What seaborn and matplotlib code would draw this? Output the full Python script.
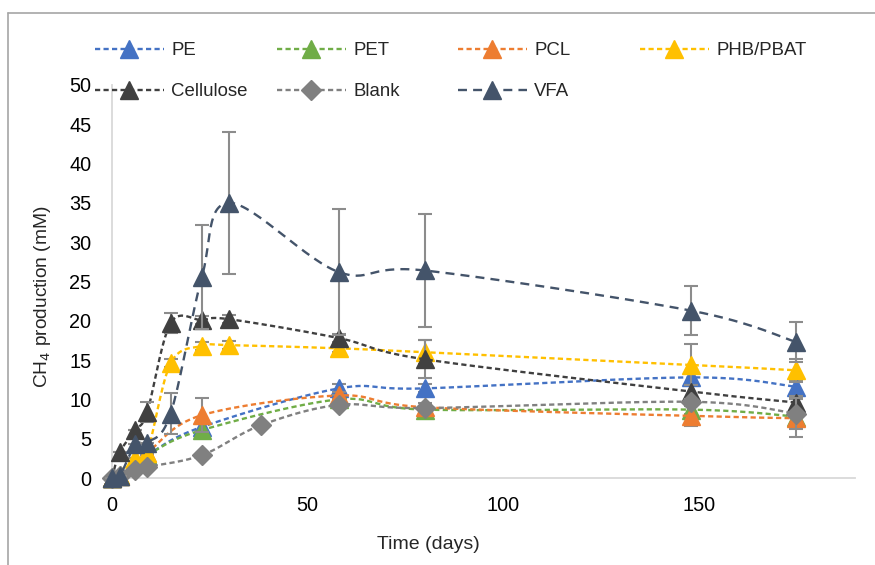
import numpy as np
import matplotlib
matplotlib.use("Agg")
import matplotlib.pyplot as plt
from matplotlib.lines import Line2D
import seaborn as sns
import pandas as pd

# ---- data ----
series_names = ["PE", "PET", "PCL", "PHB/PBAT", "Cellulose", "Blank", "VFA"]

t_plastic = [0, 2, 9, 23, 58, 80, 148, 175]
pe_vals = [0, 0.3, 2.9, 6.5, 11.4, 11.4, 12.8, 11.6]
pet_vals = [0, 0.3, 2.9, 6.1, 10.0, 8.7, 8.7, 7.8]
pcl_vals = [0, 0.3, 3.2, 8.0, 10.5, 9.0, 7.9, 7.6]
pe_err = [0, 0, 0, 0.5, 0.5, 0.5, 0.8, 0.8]
pet_err = [0, 0, 0, 0.8, 0.5, 0.5, 0.5, 0.8]
pcl_err = [0, 0, 0, 2.2, 0.5, 0.5, 1.3, 2.4]

t_full = [0, 2, 6, 9, 15, 23, 30, 58, 80, 148, 175]
phb_vals = [0, 0.4, 2.5, 3.2, 14.6, 16.8, 16.9, 16.5, 16.0, 14.4, 13.7]
phb_err = [0, 0, 0, 0, 0.5, 0.5, 0.5, 0.5, 1.5, 2.6, 1.5]
cel_vals = [0, 3.3, 6.1, 8.4, 19.7, 20.1, 20.2, 17.8, 15.1, 11.0, 9.6]
cel_err = [0, 0, 0, 1.3, 1.3, 0.5, 0.5, 0.5, 2.4, 0.8, 0.8]
vfa_vals = [0, 0.3, 4.3, 4.5, 8.2, 25.6, 35.0, 26.2, 26.4, 21.3, 17.3]
vfa_err = [0, 0, 0, 0, 2.6, 6.6, 9.0, 8.0, 7.2, 3.1, 2.6]

t_blank = [0, 2, 6, 9, 23, 38, 58, 80, 148, 175]
blank_vals = [0, 0.3, 1.0, 1.4, 2.9, 6.7, 9.3, 8.9, 9.7, 8.2]
blank_err = [0, 0, 0, 0, 0.3, 0.3, 0.3, 0.3, 0.3, 2.0]

x_ticks = [0, 50, 100, 150]
y_ticks = list(range(0, 55, 5))

colors = {"PE": "#4472C4", "PET": "#70AD47", "PCL": "#ED7D31", "PHB/PBAT": "#FFC000",
          "Cellulose": "#404040", "Blank": "#808080", "VFA": "#44546A"}
markers = {"PE": "^", "PET": "^", "PCL": "^", "PHB/PBAT": "^",
           "Cellulose": "^", "Blank": "D", "VFA": "^"}

data = {
    "PE": (t_plastic, pe_vals, pe_err),
    "PET": (t_plastic, pet_vals, pet_err),
    "PCL": (t_plastic, pcl_vals, pcl_err),
    "PHB/PBAT": (t_full, phb_vals, phb_err),
    "Cellulose": (t_full, cel_vals, cel_err),
    "Blank": (t_blank, blank_vals, blank_err),
    "VFA": (t_full, vfa_vals, vfa_err),
}


def smooth(x, y, n=30):
    """Catmull-Rom curve through the points (display only, like Excel smoothed line)."""
    x = np.asarray(x, float)
    y = np.asarray(y, float)
    P = np.column_stack([x, y])
    P = np.vstack([P[0], P, P[-1]])
    out = []
    for i in range(1, len(P) - 2):
        p0, p1, p2, p3 = P[i - 1], P[i], P[i + 1], P[i + 2]
        t = np.linspace(0, 1, n, endpoint=False)[:, None]
        pts = 0.5 * ((2 * p1) + (-p0 + p2) * t + (2 * p0 - 5 * p1 + 4 * p2 - p3) * t ** 2
                     + (-p0 + 3 * p1 - 3 * p2 + p3) * t ** 3)
        out.append(pts)
    out.append(P[-2][None, :])
    out = np.vstack(out)
    return out[:, 0], out[:, 1]


sns.set_style("white")
plt.rcParams['font.family'] = ['Liberation Sans', 'DejaVu Sans']

W, H = 875, 565
fig = plt.figure(figsize=(8.75, 5.65), dpi=100)
ax = fig.add_axes([112 / W, 1 - 478 / H, (855 - 112) / W, (478 - 85) / H])

short_dash = (0, (2.2, 1.4))
long_dash = (0, (3.8, 2.6))

handles = {}
for z, name in enumerate(series_names):
    t, v, e = data[name]
    c = colors[name]
    ls = long_dash if name == "VFA" else short_dash
    sx, sy = smooth(t, v)
    df = pd.DataFrame({"t": sx, "v": sy})
    sns.lineplot(data=df, x="t", y="v", ax=ax, color=c, linestyle=ls, linewidth=1.7,
                 sort=False, estimator=None, zorder=3 + 3 * z)
    ax.errorbar(t, v, yerr=e, fmt="none", ecolor="#8C8C8C", elinewidth=1.5,
                capsize=5, capthick=1.5, zorder=4 + 3 * z, clip_on=False)
    ms = 10.5 if name == "Blank" else 12.5
    ax.plot(t, v, linestyle="none", marker=markers[name], markersize=ms, color=c,
            markeredgecolor=c, zorder=5 + 3 * z, clip_on=False)
    handles[name] = Line2D([0], [0], color=c, linestyle=ls, linewidth=1.7,
                           marker=markers[name], markersize=ms, markeredgecolor=c)

ax.set_xlim(0, 190)
ax.set_ylim(0, 50)
ax.set_xticks(x_ticks)
ax.set_yticks(y_ticks)
ax.tick_params(axis="both", length=0, labelsize=14.3, colors="black")
ax.tick_params(axis="x", pad=13)
ax.tick_params(axis="y", pad=15)
for s in ["top", "right"]:
    ax.spines[s].set_visible(False)
for s in ["left", "bottom"]:
    ax.spines[s].set_color("#D9D9D9")
    ax.spines[s].set_linewidth(1.3)
ax.set_xlabel("Time (days)", fontsize=14)
ax.set_ylabel("CH$_4$ production (mM)", fontsize=13.8)
ax.xaxis.set_label_coords((428 - 112) / (855 - 112), (478 - 536) / (478 - 85))
ax.yaxis.set_label_coords((53 - 112) / (855 - 112), (478 - 297) / (478 - 85))
ax.grid(False)

# legend: fixed column positions like the original
legend_cols = [["PE", "Cellulose"], ["PET", "Blank"], ["PCL", "VFA"], ["PHB/PBAT"]]
col_x = [95, 277, 458, 640]
for names, x0 in zip(legend_cols, col_x):
    leg = fig.legend(handles=[handles[n] for n in names], labels=names, ncol=1,
                     frameon=False, loc="upper left",
                     bbox_to_anchor=(x0 / W, 1 - 42 / H), borderaxespad=0, borderpad=0,
                     fontsize=13.4, handlelength=3.7, handletextpad=0.4,
                     labelspacing=1.3)

# outer chart frame (left and top edges visible)
fig.add_artist(Line2D([8 / W, 8 / W], [0, 1 - 13 / H], transform=fig.transFigure,
                      color="#A6A6A6", linewidth=1.2))
fig.add_artist(Line2D([8 / W, 1], [1 - 13 / H, 1 - 13 / H], transform=fig.transFigure,
                      color="#A6A6A6", linewidth=1.2))

fig.savefig("out.png", dpi=100)
